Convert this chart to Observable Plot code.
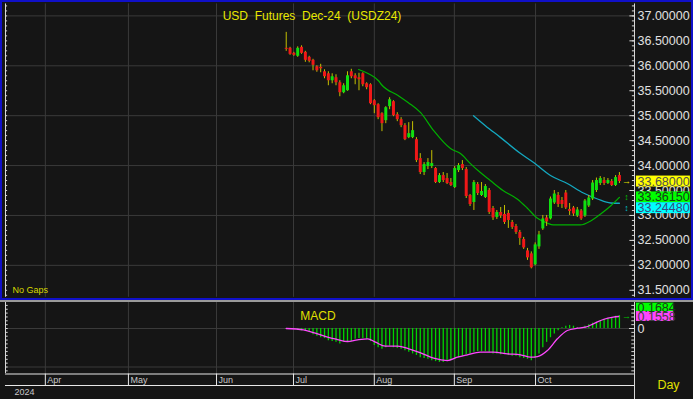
<!DOCTYPE html>
<html><head><meta charset="utf-8">
<script src="https://cdn.jsdelivr.net/npm/d3@7"></script>
<script src="https://cdn.jsdelivr.net/npm/@observablehq/plot@0.6"></script>
<style>
html,body{margin:0;padding:0;background:#000;}
#wrap{position:relative;width:693px;height:399px;background:#000;overflow:hidden;}
.pn{position:absolute;left:0;}
svg{display:block;}
svg text{white-space:pre;}
</style></head><body><div id="wrap"></div>
<script>
// ---- data ----
const candleOpen = [36.35,36.35,36.25,36.19,36.37,36.27,36.17,36.11,35.98,35.97,
 35.88,35.84,35.70,35.76,35.66,35.46,35.50,35.88,35.80,35.76,
 35.84,35.64,35.62,35.30,35.22,35.04,34.90,35.18,35.28,35.02,
 34.92,34.80,34.56,34.56,34.52,34.14,33.86,33.98,33.98,33.94,
 33.66,33.80,33.74,33.66,33.56,33.90,34.02,33.92,33.40,33.26,
 33.62,33.40,33.36,33.50,33.14,32.96,33.06,33.02,33.04,32.86,
 32.78,32.66,32.52,32.29,32.23,32.01,32.37,32.73,32.95,32.93,
 33.25,33.40,33.30,33.45,33.12,33.15,32.99,33.09,32.99,33.19,
 33.33,33.50,33.64,33.70,33.64,33.68,33.60,33.80];
const candleHigh = [36.67,36.37,36.27,36.38,36.40,36.29,36.19,36.13,36.00,36.03,
 35.92,35.88,35.84,35.82,35.70,35.64,35.88,35.93,35.84,35.85,
 35.86,35.66,35.64,35.32,35.24,35.06,35.18,35.36,35.30,35.06,
 34.96,34.84,34.86,34.88,34.56,34.24,34.06,34.14,34.30,33.96,
 33.84,33.86,33.84,33.74,33.98,34.04,34.10,33.96,33.42,33.70,
 33.66,33.66,33.62,33.54,33.18,33.10,33.16,33.20,33.10,32.90,
 32.82,32.70,32.56,32.34,32.27,32.45,32.68,33.00,33.00,33.37,
 33.50,33.46,33.36,33.50,33.24,33.18,33.16,33.12,33.32,33.40,
 33.70,33.75,33.78,33.76,33.74,33.72,33.80,33.86];
const candleLow = [36.29,36.21,36.19,36.17,36.23,36.07,36.06,35.90,35.87,35.86,
 35.74,35.60,35.64,35.60,35.38,35.44,35.49,35.74,35.62,35.50,
 35.58,35.52,35.22,35.04,34.92,34.68,34.84,35.12,34.98,34.88,
 34.76,34.50,34.54,34.54,34.06,33.82,33.80,33.92,33.94,33.64,
 33.64,33.66,33.62,33.58,33.54,33.86,33.90,33.34,33.18,33.10,
 33.40,33.38,33.34,33.02,32.90,32.92,32.94,32.82,32.74,32.72,
 32.62,32.40,32.32,32.10,31.93,31.99,32.32,32.70,32.78,32.91,
 33.22,33.16,33.14,33.12,33.00,32.98,32.96,32.90,32.96,33.16,
 33.30,33.46,33.60,33.60,33.62,33.58,33.58,33.64];
const candleClose = [36.33,36.23,36.21,36.35,36.25,36.11,36.09,36.01,35.90,35.94,
 35.78,35.70,35.78,35.66,35.46,35.60,35.80,35.78,35.74,35.72,
 35.62,35.56,35.24,35.20,34.96,34.84,35.16,35.32,35.00,34.92,
 34.80,34.52,34.64,34.70,34.10,33.86,34.02,34.06,34.04,33.66,
 33.80,33.70,33.64,33.60,33.94,34.00,33.94,33.38,33.22,33.66,
 33.44,33.48,33.58,33.06,32.95,33.06,32.99,32.86,32.90,32.76,
 32.66,32.54,32.35,32.15,31.95,32.41,32.61,32.93,32.87,33.33,
 33.43,33.22,33.22,33.15,33.08,33.03,33.11,32.93,33.29,33.35,
 33.65,33.70,33.74,33.64,33.70,33.60,33.76,33.68];

// moving averages (trading-day index, value)
const maFastIdx = [18.9,21.5,24.1,24.9,29.3,31.9,35.1,38.5,42.9,45.5,48.1,50.7,53.3,56.6,60.3,62.9,65.5,68.1,69.7,76.8,79.5,82.1,84.7,87];
const maFastVal = [35.925,35.84,35.70,35.62,35.40,35.26,35.06,34.70,34.34,34.24,34.04,33.86,33.70,33.50,33.33,33.15,32.95,32.85,32.81,32.81,32.89,33.03,33.19,33.3615];
const maSlowIdx = [48.9,52,56,61.2,64.6,69,73.4,77.6,81.3,84.7,87];
const maSlowVal = [35.00,34.80,34.56,34.24,34.06,33.80,33.64,33.45,33.33,33.25,33.2448];

// MACD
const macdHist = [-0.01,-0.01,-0.01,-0.02,-0.03,-0.04,-0.05,-0.08,-0.10,-0.12,
 -0.13,-0.16,-0.17,-0.18,-0.20,-0.18,-0.18,-0.17,-0.14,-0.13,
 -0.13,-0.14,-0.17,-0.22,-0.25,-0.27,-0.25,-0.23,-0.25,-0.26,
 -0.27,-0.29,-0.31,-0.33,-0.35,-0.38,-0.39,-0.40,-0.42,-0.43,
 -0.44,-0.44,-0.43,-0.42,-0.40,-0.38,-0.36,-0.34,-0.33,-0.31,
 -0.30,-0.30,-0.30,-0.31,-0.33,-0.33,-0.34,-0.34,-0.35,-0.36,
 -0.36,-0.38,-0.39,-0.40,-0.42,-0.39,-0.33,-0.25,-0.18,-0.12,
 -0.07,-0.03,0.01,0.03,0.04,0.03,0.01,0.01,0.03,0.05,
 0.07,0.08,0.10,0.12,0.13,0.14,0.16,0.1684];
const signalIdx = [0,4.5,7.1,10.8,13.4,16,18.6,21.3,23.3,25.9,29.1,32,35.1,38.5,42.1,44.7,47.3,50.7,54.1,57.8,61.2,63.8,65.6,68.2,70.8,73.4,76.1,78.1,80.2,82.8,85.4,86.8];
const signalVal = [0,-0.017,-0.052,-0.113,-0.143,-0.169,-0.147,-0.134,-0.178,-0.23,-0.23,-0.264,-0.316,-0.386,-0.416,-0.373,-0.342,-0.308,-0.308,-0.329,-0.342,-0.373,-0.364,-0.286,-0.134,-0.026,0.004,0.017,0.061,0.117,0.147,0.1558];

// axis ticks
const monthTickIdx = [-62.9,-41.2,-18.2,1.9,23.0,43.9,65.1];
const monthLabels = ["Apr","May","Jun","Jul","Aug","Sep","Oct"];
const priceTicks = [31.5,32,32.5,33,33.5,34,34.5,35,35.5,36,36.5,37];
const priceGrid = [32,33,34,35,36,37];

// ---- build ----
const FONT = "Liberation Sans, Arial, sans-serif";
const BG = "#151515";
const X0 = -73.3, X1 = 90.94;
const xOpt = {domain:[X0, X1], axis:null};
const wrap = document.getElementById("wrap");

const candles = candleOpen.map((o,i)=>({i, open:o, high:candleHigh[i], low:candleLow[i], close:candleClose[i]}));
const fast = maFastIdx.map((x,k)=>({x, v:maFastVal[k]}));
const slow = maSlowIdx.map((x,k)=>({x, v:maSlowVal[k]}));
const hist = macdHist.map((v,i)=>({i, v}));
const sig = signalIdx.map((x,k)=>({x, v:signalVal[k]}));
const minorP = d3.range(313, 373).map(d=>d/10);
const last = candleClose[candleClose.length-1];
const fastLast = maFastVal[maFastVal.length-1];
const slowLast = maSlowVal[maSlowVal.length-1];
const valueBoxes = [
  {v:last, y:last, bg:"#ffff00", fg:"#505050"},
  {v:fastLast, y:fastLast, bg:"#00ff00", fg:"#1a3a1a"},
  {v:slowLast, y:fastLast-0.215, bg:"#00ffff", fg:"#3a4a80"}
];
function place(el, top){ const d=document.createElement("div"); d.className="pn"; d.style.top=top+"px"; d.appendChild(el); wrap.appendChild(d); return d; }

// main price panel
const main = Plot.plot({
  width:693, height:300, marginLeft:5, marginRight:59, marginTop:15.4, marginBottom:10.2,
  x:xOpt, y:{domain:[31.5,37], axis:null},
  style:{background:BG, fontFamily:FONT, overflow:"visible"},
  marks:[
    Plot.ruleY(priceGrid, {stroke:"#3a3a3a"}),
    Plot.ruleX(monthTickIdx, {y1:31.36, y2:37.24, stroke:"#3a3a3a"}),
    Plot.ruleX([X0, X1], {y1:31.36, y2:37.24, stroke:"#d8d8d8"}),
    Plot.ruleY(minorP, {x1:X1-0.55, x2:X1, stroke:"#d8d8d8"}),
    Plot.ruleY(priceTicks, {x1:X1-1.2, x2:X1, stroke:"#d8d8d8"}),
    Plot.ruleY(minorP, {x1:X0, x2:X0+0.55, stroke:"#d8d8d8"}),
    Plot.text(priceTicks, {x:X1, y:d=>d, text:d=>d.toFixed(5), dx:3, textAnchor:"start", fill:"#e0e0e0", fontSize:12.5}),
    Plot.line(slow, {x:"x", y:"v", stroke:"#14a8c0", strokeWidth:1.3, curve:"monotone-x"}),
    Plot.line(fast, {x:"x", y:"v", stroke:"#00b000", strokeWidth:1.2, curve:"monotone-x"}),
    Plot.ruleX(candles, {x:"i", y1:"low", y2:"high", stroke:"#c4c000", strokeWidth:1}),
    Plot.ruleX(candles, {x:"i", y1:"open", y2:"close", stroke:d=>d.close>=d.open?"#10e010":"#f01818", strokeWidth:3}),
    Plot.rect(valueBoxes, {x1:X1+0.5, x2:X1+14.6, y1:d=>d.y-0.11, y2:d=>d.y+0.11, fill:"bg"}),
    Plot.text(valueBoxes, {x:X1, y:"y", text:d=>d.v.toFixed(5), dx:3, textAnchor:"start", fill:"fg", fontSize:12.5}),
    Plot.text(valueBoxes, {x:X1, y:"y", text:(d,k)=>k===0?"→":"↕", dx:-8, fill:(d,k)=>["#e0e000","#00c000","#00c0d0"][k], fontSize:9, fontWeight:"bold"}),
    Plot.text(["USD  Futures  Dec-24  (USDZ24)"], {frameAnchor:"top", text:d=>d, dx:-8, dy:-4.5, fill:"#e8e800", fontSize:12}),
    Plot.text(["No Gaps"], {frameAnchor:"bottom-left", text:d=>d, dx:7, dy:2.5, textAnchor:"start", fill:"#d8d800", fontSize:9})
  ]
});
place(main, 0);
const border = document.createElement("div");
border.style.cssText = "position:absolute;left:0;top:0;width:693px;height:300px;box-sizing:border-box;border:2px solid #1010c8;pointer-events:none;";
wrap.appendChild(border);
const sep = document.createElement("div");
sep.style.cssText = "position:absolute;left:0;top:300px;width:693px;height:2px;background:#9a9a9a;border-bottom:0;";
wrap.appendChild(sep);

// MACD panel
const macdTicks = d3.range(-11, 7).map(d=>d*0.05);
const macdBoxes = [
  {v:macdHist[macdHist.length-1], y:signalVal[signalVal.length-1]+0.11, bg:"#00ff00", fg:"#1a3a1a"},
  {v:signalVal[signalVal.length-1], y:signalVal[signalVal.length-1], bg:"#ff44ff", fg:"#404040"}
];
const macd = Plot.plot({
  width:693, height:71, marginLeft:5, marginRight:59, marginTop:0, marginBottom:0,
  x:xOpt, y:{domain:[-0.5844, 0.3377], axis:null},
  style:{background:BG, fontFamily:FONT, overflow:"visible"},
  marks:[
    Plot.ruleX(monthTickIdx, {stroke:"#3a3a3a"}),
    Plot.ruleY([0, -0.5], {stroke:"#3a3a3a"}),
    Plot.ruleX([X0, X1], {stroke:"#d8d8d8"}),
    Plot.ruleY(macdTicks, {x1:X1-0.7, x2:X1, stroke:"#d8d8d8"}),
    Plot.ruleY([0], {x1:X1-1.3, x2:X1, stroke:"#d8d8d8"}),
    Plot.ruleY(macdTicks, {x1:X0, x2:X0+0.7, stroke:"#d8d8d8"}),
    Plot.ruleX(hist, {x:"i", y1:0, y2:"v", stroke:"#00d400", strokeWidth:1.3}),
    Plot.line(sig, {x:"x", y:"v", stroke:"#ff48ff", strokeWidth:1.3, curve:"monotone-x"}),
    Plot.text([0], {x:X1, y:d=>d, text:()=>"0", dx:3, textAnchor:"start", fill:"#e0e0e0", fontSize:12.5}),
    Plot.rect(macdBoxes, {x1:X1+0.5, x2:X1+10.3, y1:d=>d.y-0.064, y2:d=>d.y+0.064, fill:"bg"}),
    Plot.text(macdBoxes, {x:X1, y:"y", text:d=>d.v.toFixed(4), dx:3, textAnchor:"start", fill:"fg", fontSize:12.5}),
    Plot.text([signalVal[signalVal.length-1]], {x:X1, y:d=>d, text:()=>"→", dx:-8, fill:"#00c000", fontSize:9, fontWeight:"bold"}),
    Plot.text(["MACD"], {frameAnchor:"top", text:d=>d, dx:-2, dy:9, fill:"#e0e000", fontSize:12})
  ]
});
place(macd, 302);

// date strip
const strip = Plot.plot({
  width:693, height:26, marginLeft:5, marginRight:59, marginTop:0, marginBottom:0,
  x:xOpt, y:{domain:[0,26], range:[0,26], axis:null},
  style:{background:BG, fontFamily:FONT, overflow:"visible"},
  marks:[
    Plot.ruleY([0.5, 12], {x1:X0, x2:X1, stroke:"#e8e8e8"}),
    Plot.ruleX(monthTickIdx, {y1:0.5, y2:12, stroke:"#e8e8e8"}),
    Plot.ruleX([X1], {y1:0, y2:26, stroke:"#d8d8d8"}),
    Plot.text(monthLabels, {x:(d,k)=>monthTickIdx[k], y:7, text:d=>d, dx:2, textAnchor:"start", fill:"#c8c8c8", fontSize:9}),
    Plot.text(["2024"], {x:X0, y:19, text:d=>d, dx:9, textAnchor:"start", fill:"#c8c8c8", fontSize:9}),
    Plot.text(["Day"], {x:X1, y:11, text:d=>d, dx:34, fill:"#e0e000", fontSize:12.5})
  ]
});
place(strip, 373);
</script></body></html>
